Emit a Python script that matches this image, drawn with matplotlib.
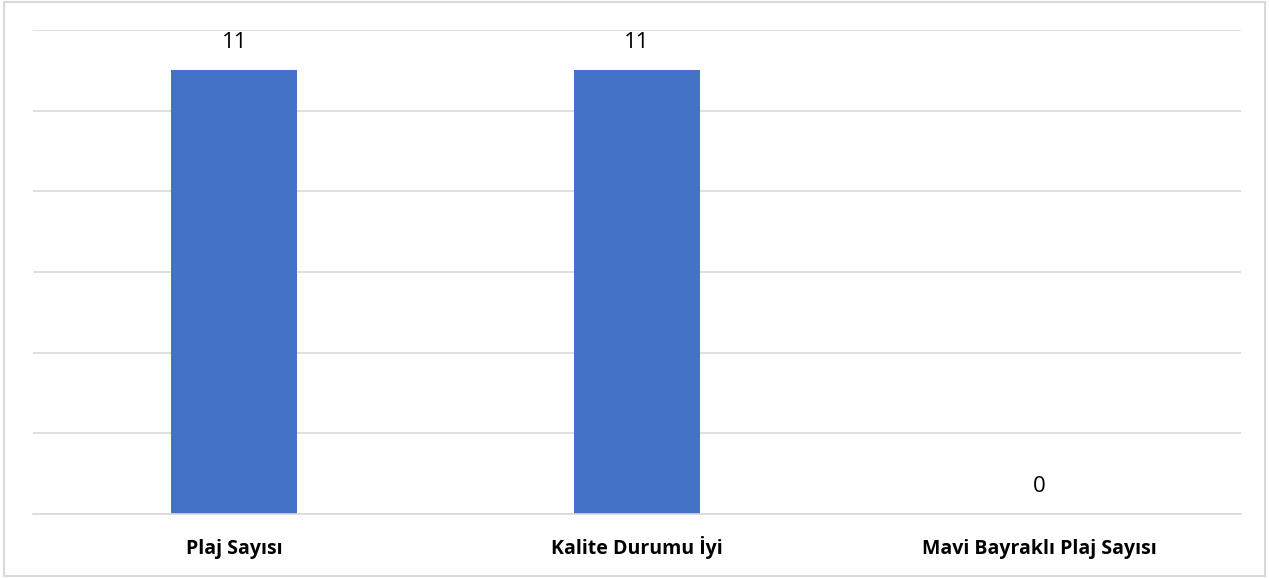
import matplotlib.pyplot as plt
from matplotlib.patches import Rectangle

categories = ['Plaj Sayısı', 'Kalite Durumu İyi', 'Mavi Bayraklı Plaj Sayısı']
values = [11, 11, 0]

fig = plt.figure(figsize=(12.69, 5.78), dpi=100)
ax = fig.add_axes([0.026, 0.111, 0.952, 0.837])

x = range(len(categories))
ax.bar(x, values, width=0.313, color='#4472C4', zorder=2)

for xi, v in zip(x, values):
    ax.annotate(str(v), (xi, v), xytext=(0, 20), textcoords='offset points',
                ha='center', va='center', fontsize=16, family='Open Sans', color='#000000')

ax.set_xlim(-0.5, 2.5)
ax.set_ylim(0, 12)
ax.set_yticks(range(0, 13, 2))
ax.yaxis.grid(True, color='#d9d9d9', linewidth=1.2, zorder=0)
ax.set_yticklabels([])
ax.tick_params(axis='y', length=0)
ax.set_xticks(list(x))
ax.set_xticklabels(categories, fontsize=14, fontweight='bold', family='Open Sans')
ax.tick_params(axis='x', length=0, pad=29)
for lbl in ax.get_xticklabels():
    lbl.set_va('baseline')
for s in ['top', 'right', 'left']:
    ax.spines[s].set_visible(False)
ax.spines['bottom'].set_color('#d9d9d9')
ax.spines['bottom'].set_linewidth(1.2)

fig.patches.append(Rectangle((0.003, 0.004), 0.994, 0.993, transform=fig.transFigure,
                             fill=False, edgecolor='#d9d9d9', linewidth=1.5))

fig.savefig('out.png', dpi=100)
